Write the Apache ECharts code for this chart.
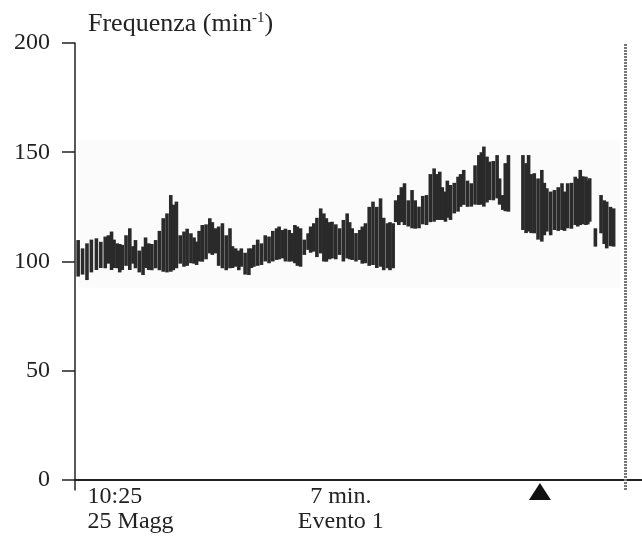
<!DOCTYPE html>
<html>
<head>
<meta charset="utf-8">
<script src="https://cdn.jsdelivr.net/npm/echarts@6/dist/echarts.min.js"></script>
<style>html,body{margin:0;padding:0;background:#fff;}#c{width:642px;height:541px;}</style>
</head>
<body>
<div id="c"></div>
<script>
// time of each reading (seconds from 10:25)
const times = [5,12,19,26,34,41,48,53,58,62,67,71,75,81,87,92,96,102,108,112,117,122,128,134,140,146,152,156,161,167,173,178,184,189,193,197,202,208,214,218,223,228,234,240,246,250,255,260,264,270,276,280,284,290,296,302,308,314,320,324,329,334,340,345,349,353,358,364,370,374,379,384,390,395,399,404,408,414,420,426,432,436,440,446,452,456,461,467,473,479,485,490,496,500,505,509,514,518,523,529,535,540,546,552,558,564,570,574,579,583,588,591,596,602,608,612,617,623,629,635,641,645,649,654,658,664,670,674,679,683,688,711,716,720,724,729,735,741,745,749,755,761,767,773,777,782,788,794,798,802,806,811,814,817,826,835,840,844,850,855];
// min heart rate of each reading (min^-1)
const lows  = [93.1,94,91.5,95,96.1,97,96.9,99,96.1,97,96.9,95,96.1,98,96.1,99,96.9,95,93.8,97,96.1,96,96.9,96,95.3,95,95.3,96,96.9,99,97.6,98,99.2,99,98.4,100,99.9,101,103.7,103,103.7,98,96.9,96,96.9,97,97.6,96,97.6,94,93.8,97,97.6,98,98.4,100,99.2,100,100.7,101,101.4,100,99.9,100,99.2,98,97.6,103,105.3,104,104.5,102,103.7,100,99.9,101,101.4,101,103.0,100,101.4,101,100.7,100,100.7,99,99.2,98,98.4,97,97.6,96,96.9,96,96.9,118,116.7,118,116.7,116,115.2,115,115.2,117,116.7,118,118.2,119,119.0,119,118.2,120,119.0,122,122.8,125,125.9,125,125.1,126,125.9,126,125.1,127,128.1,128,128.9,126,123.6,123,122.8,114.4,113,113.7,113,112.9,110,109.1,112,113.7,112,114.4,114,114.4,114,115.2,115,116.7,116,116.7,117,116.7,117,118.2,106.8,112.9,108,106.0,107,106.8];
// max heart rate of each reading (min^-1)
const highs = [109.8,106,108.3,110,110.6,109,111.4,112,113.7,110,108.3,108,107.6,112,115.2,107,109.8,105,106.8,111,108.3,108,109.8,114,119.8,122,130.4,126,127.4,112,113.7,115,112.9,111,109.1,114,116.7,117,119.8,118,115.2,116,117.5,112,115.2,107,106.0,105,106.0,104,106.0,106,107.6,110,108.3,112,111.4,114,115.2,116,114.4,115,114.4,113,116.7,116,115.2,110,112.9,116,117.5,120,124.3,122,119.8,118,118.2,117,115.2,119,122.0,118,115.2,113,114.4,116,117.5,125,127.4,125,128.9,120,117.5,118,117.5,128,130.4,134,135.8,128,132.7,128,125.1,130,130.4,140,142.6,140,141.1,134,132.0,137,135.0,136,138.8,140,141.9,137,135.8,144,148.7,150,152.6,148,145.7,146,148.7,138,130.4,145,148.7,148.7,145,148.7,140,140.4,138,141.9,136,133.5,132,132.7,134,135.8,132,135.8,136,138.8,138,141.9,139,138.8,137,138.1,115.2,130.4,128,127.4,125,124.3];
const yTicks = [0, 50, 100, 150, 200];
const xLabels = ['10:25\n25 Magg', '7 min.\nEvento 1'];
const xLabelTimes = [20, 422];
const xLabelAlign = ['left', 'center'];
const eventTime = [738];
const endTime = [873];
const shadeRange = [[5, 88], [865, 155.5]];

const serif = '"Liberation Serif", "DejaVu Serif", serif';
const chart = echarts.init(document.getElementById('c'), null, {renderer: 'canvas'});
chart.setOption({
  animation: false,
  backgroundColor: '#ffffff',
  title: {
    text: '{a|Frequenza (min}{s|-1}{a|)}',
    left: 88, top: 11, padding: 0,
    textStyle: {
      fontWeight: 'normal',
      rich: {
        a: {fontFamily: serif, fontSize: 26, fontWeight: 'normal', color: '#222'},
        s: {fontFamily: serif, fontSize: 15, fontWeight: 'normal', color: '#222', verticalAlign: 'top', padding: [0, 0, 8, 0]}
      }
    }
  },
  grid: {left: 75, right: 0, top: 43, bottom: 51},
  xAxis: {
    type: 'value', min: 0, max: 900,
    axisLine: {onZero: true, lineStyle: {color: '#222', width: 2}},
    axisTick: {show: false}, axisLabel: {show: false}, splitLine: {show: false}
  },
  yAxis: {
    type: 'value', min: -4.6, max: 200,
    axisLine: {show: true, lineStyle: {color: '#222', width: 1.5}},
    axisTick: {show: true, length: 13, customValues: yTicks, lineStyle: {color: '#222', width: 1.5}},
    axisLabel: {customValues: yTicks, margin: 25, fontFamily: serif, fontSize: 24, color: '#222'},
    splitLine: {show: false}
  },
  series: [{
    type: 'custom',
    data: times.map((t, i) => [t, lows[i], highs[i]]),
    encode: {x: 0, y: [1, 2]},
    renderItem: function (params, api) {
      const t = api.value(0);
      const top = api.coord([t, api.value(2)]);
      const bot = api.coord([t, api.value(1)]);
      const w = 3.6;
      return {type: 'rect', shape: {x: top[0] - w / 2, y: top[1], width: w, height: bot[1] - top[1]}, style: {fill: '#2a2a2a'}};
    },
    markArea: {
      silent: true,
      itemStyle: {color: '#fbfbfb'},
      data: [[{xAxis: shadeRange[0][0], yAxis: shadeRange[0][1]}, {xAxis: shadeRange[1][0], yAxis: shadeRange[1][1]}]]
    },
    markLine: {
      silent: true, symbol: 'none', label: {show: false},
      lineStyle: {type: [2, 1], width: 3, color: '#777'},
      data: endTime.map(t => ({xAxis: t}))
    },
    markPoint: {
      silent: true,
      data: eventTime.map(t => ({coord: [t, 0], symbol: 'triangle', symbolSize: [22, 17], symbolOffset: [0, 11.5], itemStyle: {color: '#111'}, label: {show: false}}))
    }
  }]
});
chart.setOption({
  graphic: xLabels.map((txt, i) => {
    const px = chart.convertToPixel({xAxisIndex: 0}, xLabelTimes[i]);
    return {type: 'text', x: px, y: 484, style: {text: txt, font: '24px ' + serif, fill: '#222', align: xLabelAlign[i], lineHeight: 25, verticalAlign: 'top'}};
  })
});
</script>
</body>
</html>
